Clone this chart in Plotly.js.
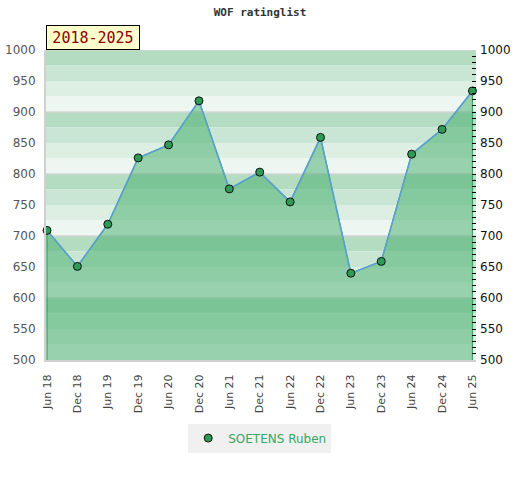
<!DOCTYPE html>
<html>
<head>
<meta charset="utf-8">
<script src="https://cdn.plot.ly/plotly-3.0.1.min.js"></script>
<style>html,body{margin:0;padding:0;background:#fff;}#chart{width:520px;height:480px;}</style>
</head>
<body>
<div id="chart"></div>
<script>
const categories = ["Jun 18","Dec 18","Jun 19","Dec 19","Jun 20","Dec 20","Jun 21","Dec 21","Jun 22","Dec 22","Jun 23","Dec 23","Jun 24","Dec 24","Jun 25"];
const ratings = [709, 651, 719, 826, 847, 918, 776, 803, 755, 859, 640, 659, 832, 872, 934];
const seriesName = "SOETENS Ruben";
const chartTitle = "WOF ratinglist";
const periodLabel = "2018-2025";
const yMin = 500, yMax = 1000;

const bandColors = ["#b3dcc1", "#c8e6d3", "#ddeee3", "#eef6f1"];
const shapes = [];
for (let top = yMax; top > yMin; top -= 100) {
  for (let i = 0; i < 4; i++) {
    shapes.push({type:"rect", xref:"paper", yref:"y", x0:0, x1:1,
      y0: top - (i+1)*25, y1: top - i*25, fillcolor: bandColors[i], line:{width:0}, layer:"below"});
  }
  shapes.push({type:"line", xref:"paper", yref:"y", x0:0, x1:1, y0:top, y1:top,
    line:{color:"#d4d4d4", width:1.5}, layer:"below"});
}

const fillX = [categories[0]].concat(categories, [categories[categories.length-1]]);
const fillY = [yMin].concat(ratings, [yMin]);

const traces = [
  {x: fillX, y: fillY, type:"scatter", mode:"lines", fill:"toself",
   fillcolor:"rgba(65,172,105,0.5)", line:{color:"#3aa55c", width:1.2},
   hoverinfo:"skip", showlegend:false, xaxis:"x", yaxis:"y"},
  {x: categories, y: ratings, type:"scatter", mode:"lines", name: seriesName,
   line:{color:"#5b9fd6", width:1.5}, showlegend:false,
   cliponaxis:false, xaxis:"x", yaxis:"y2"},
  {x: categories, y: ratings, type:"scatter", mode:"markers", name: seriesName,
   marker:{size:8, color:"#2e9a55", line:{color:"#111", width:1}},
   cliponaxis:false, xaxis:"x", yaxis:"y2"}
];

const layout = {
  width:520, height:480,
  margin:{l:46, r:44, t:50, b:120},
  paper_bgcolor:"#fff", plot_bgcolor:"rgba(0,0,0,0)",
  font:{family:"DejaVu Sans, sans-serif", size:12, color:"#444"},
  title:{text:chartTitle, x:0.5, xanchor:"center", y:0.975, yanchor:"middle",
    font:{family:"DejaVu Sans Mono, monospace", size:11, color:"#333", weight:"bold"}},
  xaxis:{type:"category", range:[-0.033, 14.117], tickangle:-90, ticks:"", ticklabelstandoff:8,
    showgrid:false, zeroline:false, showline:true, linecolor:"#d0d0d0", linewidth:2,
    tickfont:{size:11, color:"#444"}, fixedrange:true},
  yaxis:{range:[yMin, yMax], dtick:50, ticks:"", ticklabelstandoff:6, showgrid:false, zeroline:false,
    showline:true, linecolor:"#d0d0d0", linewidth:2, tickfont:{size:12, color:"#555"}},
  yaxis2:{range:[yMin, yMax], overlaying:"y", side:"right", dtick:50, ticks:"inside", ticklen:4,
    tickcolor:"#000", tickwidth:1, showgrid:false, zeroline:false, showline:false,
    minor:{dtick:10, ticks:"inside", ticklen:4, tickcolor:"#000", tickwidth:1, showgrid:false},
    tickfont:{size:12, color:"#111"}, ticklabelstandoff:3},
  shapes: shapes,
  showlegend:true,
  legend:{orientation:"h", x:0.497, xanchor:"center", y:-0.205, yanchor:"top",
    bgcolor:"#f0f0f0", font:{size:12, color:"#3aa55c"}, itemwidth:20},
  annotations:[{xref:"paper", yref:"paper", x:0, xanchor:"left", y:1, yanchor:"bottom",
    text:periodLabel, showarrow:false, bgcolor:"#ffffcc", bordercolor:"#000", borderwidth:1,
    width:88, height:19, borderpad:2,
    font:{family:"DejaVu Sans Mono, monospace", size:15, color:"#8b0000"}}]
};

Plotly.newPlot("chart", traces, layout, {displayModeBar:false, staticPlot:true});
</script>
</body>
</html>
